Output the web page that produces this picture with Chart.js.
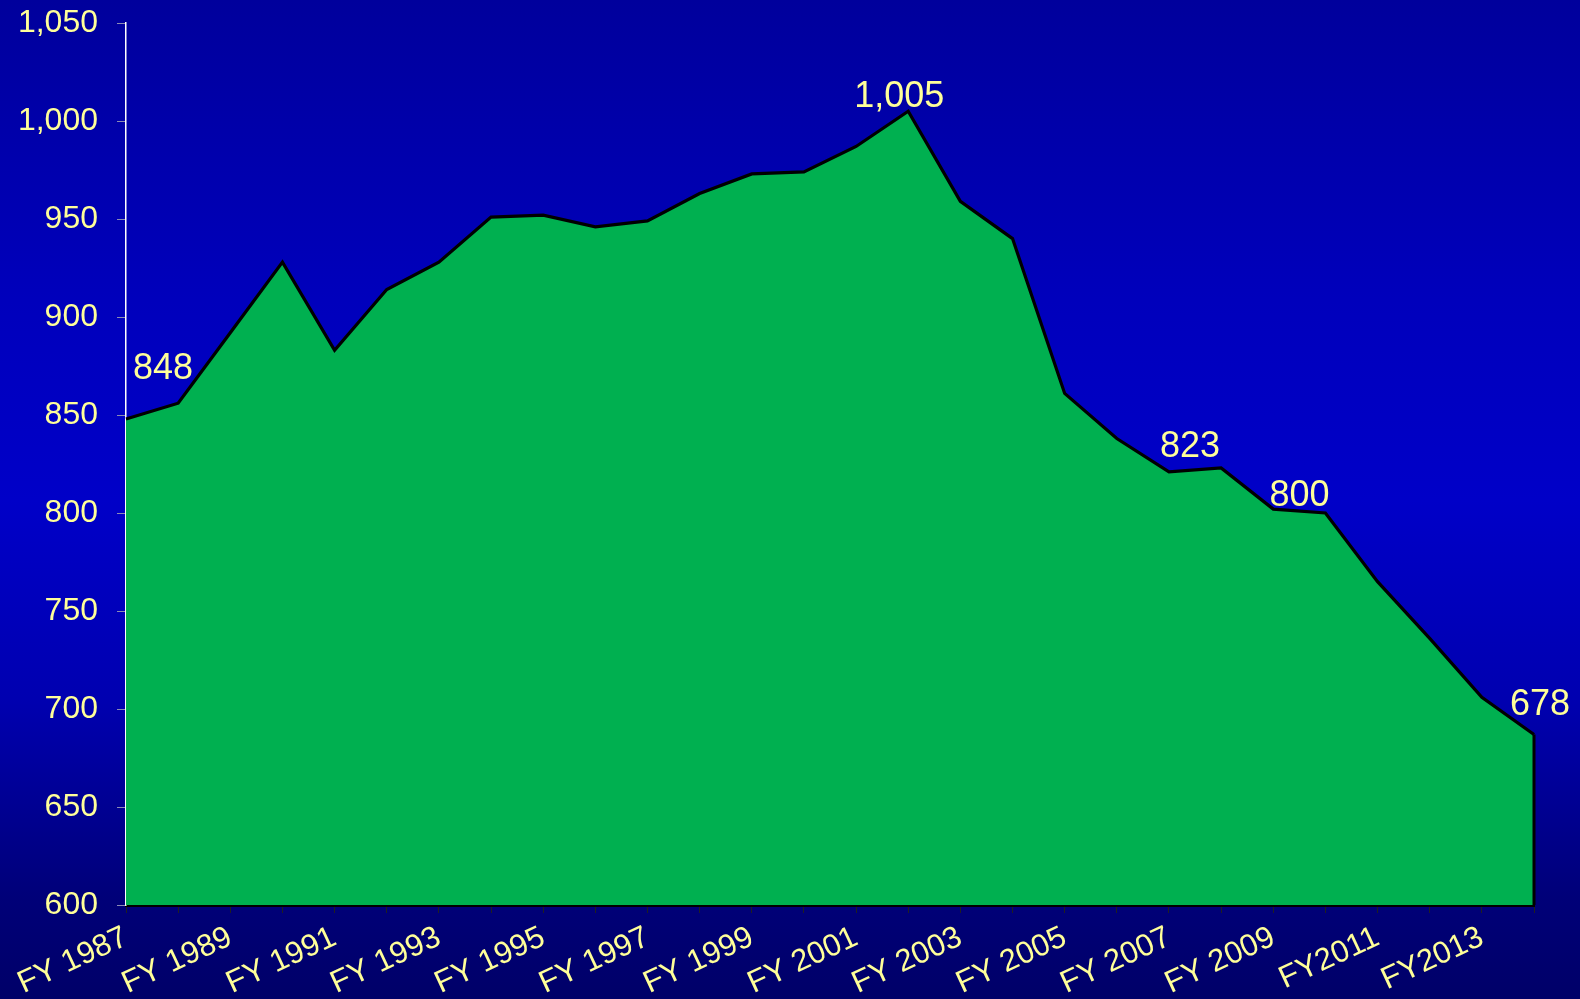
<!DOCTYPE html>
<html><head><meta charset="utf-8">
<script src="https://cdn.jsdelivr.net/npm/chart.js@4/dist/chart.umd.min.js"></script>
<style>
html,body{margin:0;padding:0;width:1580px;height:999px;overflow:hidden;}
body{background:linear-gradient(to bottom,#00009C 0%,#0000BC 30%,#0000C8 50%,#0000B0 70%,#000078 90%,#000068 100%);}
#wrap{position:relative;width:1580px;height:999px;}
</style></head><body><div id="wrap"><canvas id="c" width="1580" height="999"></canvas></div>
<script>
const categories = ['FY 1987','FY 1988','FY 1989','FY 1990','FY 1991','FY 1992','FY 1993','FY 1994','FY 1995','FY 1996','FY 1997','FY 1998','FY 1999','FY 2000','FY 2001','FY 2002','FY 2003','FY 2004','FY 2005','FY 2006','FY 2007','FY 2008','FY 2009','FY 2010','FY2011','FY2012','FY2013','FY2014'];
const values = [848,856,892,928,883,914,928,951,952,946,949,963,973,974,987,1005,959,940,861,838,821,823,802,800,765,736,706,687];
const yTicks = [600,650,700,750,800,850,900,950,1000,1050];
const calloutIndex = [0,15,21,23,27];
const calloutText = ['848','1,005','823','800','678'];

const FONT = "'Liberation Sans', Arial, sans-serif";
const labelColor = '#FFFF99';

const calloutOffsets = [[37,-40],[-9,-4],[-31,-11],[-26,-7],[6,-19]];

const overlay = {
  id:'overlay',
  afterDatasetsDraw(chart){
    const ctx = chart.ctx;
    const meta = chart.getDatasetMeta(0);
    const last = meta.data[meta.data.length-1];
    const ys = chart.scales.y;
    ctx.save();
    ctx.strokeStyle = '#000';
    ctx.lineWidth = 3;
    ctx.beginPath();
    ctx.moveTo(last.x, last.y);
    ctx.lineTo(last.x, ys.getPixelForValue(yTicks[0]));
    ctx.stroke();
    ctx.fillStyle = labelColor;
    ctx.font = '36px ' + FONT;
    ctx.textAlign = 'center';
    ctx.textBaseline = 'alphabetic';
    calloutIndex.forEach((idx,k)=>{
      const p = meta.data[idx];
      ctx.fillText(calloutText[k], p.x + calloutOffsets[k][0], p.y + calloutOffsets[k][1]);
    });
    ctx.restore();
  }
};

new Chart(document.getElementById('c'), {
  type:'line',
  data:{labels:categories, datasets:[{data:values, fill:'start', backgroundColor:'#00B050', borderColor:'#000', borderWidth:3.2, pointRadius:0, tension:0, borderJoinStyle:'miter'}]},
  options:{
    responsive:false, animation:false,
    layout:{padding:{left:0,right:46,top:23,bottom:0}},
    plugins:{legend:{display:false},tooltip:{enabled:false}},
    scales:{
      x:{
        offset:false,
        afterFit:(s)=>{ s.paddingLeft = 0; s.paddingRight = 0; s.height = 94; },
        grid:{display:true, drawOnChartArea:false, drawTicks:true, tickLength:8, color:'#202020', lineWidth:1},
        border:{display:true, color:'#000', width:3},
        ticks:{autoSkip:false, maxRotation:25, minRotation:25, color:labelColor, padding:6,
          font:{family:FONT, size:31},
          callback:(v,i)=> i%2===0 ? categories[i] : ''}
      },
      y:{
        min:yTicks[0], max:yTicks[yTicks.length-1],
        afterFit:(s)=>{ s.width = 126; s.paddingTop = 0; s.paddingBottom = 0; },
        afterBuildTicks:(s)=>{ s.ticks = yTicks.map(v=>({value:v})); },
        grid:{display:true, drawOnChartArea:false, drawTicks:true, tickLength:9, color:'#8c8cb4', lineWidth:1},
        border:{display:true, color:'#ffffff', width:1.5},
        ticks:{color:labelColor, padding:19, font:{family:FONT, size:32},
          callback:(v)=> v.toLocaleString('en-US')}
      }
    }
  },
  plugins:[overlay]
});
</script>
</body></html>
